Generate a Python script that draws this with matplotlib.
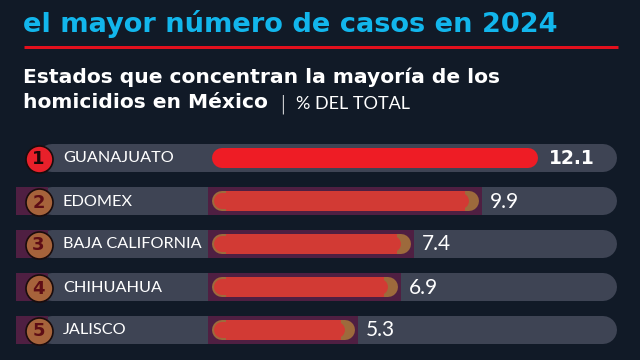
import matplotlib.pyplot as plt
from matplotlib.patches import Rectangle

estados = ['GUANAJUATO', 'EDOMEX', 'BAJA CALIFORNIA', 'CHIHUAHUA', 'JALISCO']
valores = [12.1, 9.9, 7.4, 6.9, 5.3]
rangos = ['1', '2', '3', '4', '5']

titulo = 'el mayor número de casos en 2024'
sub1 = 'Estados que concentran la mayoría de los'
sub2 = 'homicidios en México'
sub3 = '% DEL TOTAL'

BG = '#111a27'
PILL = '#3e4454'
ROJO = '#ee1c25'
ROJO2 = '#d23a34'
OLIVA = '#9d6a3c'
TINTE = '#4f1f42'
CYAN = '#12b6ec'

W, H = 640, 360
S = 26.94        # px por unidad
X0 = 212         # px donde empieza la barra
PT = 72 / 100

fig = plt.figure(figsize=(6.4, 3.6), dpi=100, facecolor=BG)
ax = fig.add_axes([0, 0, 1, 1])
ax.set_facecolor(BG)
ax.set_xlim(-X0 / S, (W - X0) / S)
ax.set_ylim(H, 0)
ax.axis('off')

def px(x):
    return (x - X0) / S

def ftext(x, y, s, **kw):
    fig.text(x / W, 1 - y / H, s, **kw)

# encabezado
ftext(23, 32, titulo, color=CYAN, fontsize=19.6, fontweight='bold',
      family='DejaVu Sans', va='baseline')
ax.plot([px(24), px(618)], [47, 47], color='#e3101d', lw=3 * PT,
        solid_capstyle='butt')
ftext(23, 83, sub1, color='white', fontsize=14.6, fontweight='bold',
      family='DejaVu Sans', va='baseline')
ftext(23, 108, sub2, color='white', fontsize=14.6, fontweight='bold',
      family='DejaVu Sans', va='baseline')
ftext(279, 110, '|', color='white', fontsize=14, fontweight='light',
      family='DejaVu Sans', va='baseline')
ftext(296, 109, sub3, color='white', fontsize=13, family='Lato',
      va='baseline')

r_bar = 10 / S
for i, (est, v, rk) in enumerate(zip(estados, valores, rangos)):
    y = 158 + 43 * i
    # pista
    ax.plot([px(52), px(603)], [y, y], color=PILL, lw=28 * PT,
            solid_capstyle='round', zorder=1)
    if i == 0:
        ax.plot([r_bar, v - r_bar], [y, y], color=ROJO, lw=20 * PT,
                solid_capstyle='round', zorder=3)
        cfill, ncol = '#e8202a', '#1a0808'
    else:
        ax.add_patch(Rectangle((-4 / S, y - 14), v + 7 / S, 28, color=TINTE,
                               lw=0, zorder=2))
        ax.add_patch(Rectangle((px(16), y - 14), 32 / S, 28, color=TINTE,
                               lw=0, zorder=2))
        ax.plot([r_bar, v - r_bar], [y, y], color=OLIVA, lw=20 * PT,
                solid_capstyle='round', zorder=3)
        ax.plot([r_bar + 4 / S, v - r_bar - 4 / S], [y, y], color=ROJO2,
                lw=20 * PT, solid_capstyle='butt', zorder=4)
        ax.plot([r_bar, v - r_bar - 8 / S], [y, y], color=ROJO2,
                lw=16 * PT, solid_capstyle='round', zorder=4)
        cfill, ncol = '#a6633b', '#5e0d15'
    ax.scatter([px(38.5)], [y + 1], s=(27 * PT) ** 2, color=cfill,
               edgecolor='#1a0c0c', linewidth=1.2, zorder=5)
    ax.text(px(38.5), y + 1.5, rk, color=ncol, fontsize=13, fontweight='bold',
            family=['Liberation Sans Narrow', 'DejaVu Sans'],
            ha='center', va='center', zorder=6)
    ax.text(px(63), y + 0.5, est, color='white', fontsize=11.7,
            family='Lato', ha='left', va='center', zorder=6)
    if i == 0:
        ax.text(v + 11 / S, y + 0.5, f'{v:.1f}', color='white', fontsize=13.5,
                fontweight='bold', family='DejaVu Sans',
                ha='left', va='center', zorder=6)
    else:
        ax.text(v + 11 / S, y + 0.5, f'{v:.1f}', color='white', fontsize=15,
                family='Lato', ha='left', va='center', zorder=6)

fig.savefig('out.png', dpi=100, facecolor=BG)
